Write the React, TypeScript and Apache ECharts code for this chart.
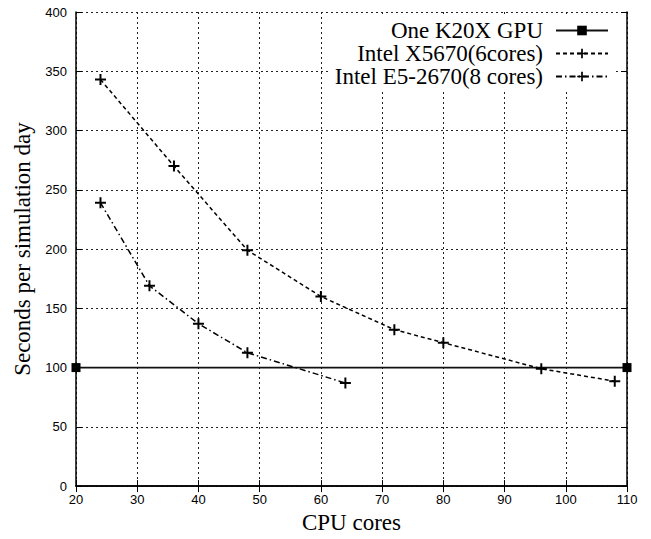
import React, { useEffect, useRef } from 'react';
import * as echarts from 'echarts';

const seriesNames = ['One K20X GPU', 'Intel X5670(6cores)', 'Intel E5-2670(8 cores)'];
const gpuCores = [20, 110];
const gpuSecs = [100, 100];
const x5670Cores = [24, 36, 48, 60, 72, 80, 96, 108];
const x5670Secs = [343, 270, 199, 160, 132, 121, 99, 88.5];
const e5Cores = [24, 32, 40, 48, 64];
const e5Secs = [239, 169, 137, 112.5, 87];
const xAxisName = 'CPU cores';
const yAxisName = 'Seconds per simulation day';

const SERIF = '"Liberation Serif", "Times New Roman", serif';
const SANS = '"Liberation Sans", Arial, sans-serif';
const PLUS = 'path://M-5,-0.9H5V0.9H-5Z M-0.9,-5H0.9V5H-0.9Z';

const zip = (xs: number[], ys: number[]) => xs.map((x, i) => [x, ys[i]]);

export default function App() {
  const ref = useRef<HTMLDivElement>(null);
  useEffect(() => {
    document.body.style.margin = '0';
    const chart = echarts.init(ref.current!, null, { renderer: 'svg' });
    const frame = { show: true, lineStyle: { color: '#000', width: 1.5 } };
    const tick = { show: true, inside: true, length: 6, lineStyle: { color: '#000', width: 1 } };
    const grid = { show: true, lineStyle: { color: '#222', width: 1, type: [2, 3] as any } };
    chart.setOption({
      animation: false,
      backgroundColor: '#fff',
      grid: { left: 76, right: 24, top: 12, bottom: 45, containLabel: false },
      legend: {
        orient: 'vertical',
        right: 38,
        top: 17,
        align: 'right',
        itemWidth: 52,
        itemHeight: 12,
        itemGap: 0,
        backgroundColor: '#fff',
        padding: [2, 4, 2, 6],
        data: seriesNames,
        textStyle: { fontFamily: SERIF, fontSize: 23, lineHeight: 21.5, color: '#000', padding: [0, 8, 0, 0] },
      },
      xAxis: [
        {
          type: 'value', min: 20, max: 110, interval: 10, position: 'bottom',
          name: xAxisName, nameLocation: 'middle', nameGap: 23,
          nameTextStyle: { fontFamily: SERIF, fontSize: 23, color: '#000' },
          axisLine: frame, axisTick: tick, splitLine: grid,
          axisLabel: { fontFamily: SANS, fontSize: 13, color: '#000', margin: 7 },
        },
        {
          type: 'value', min: 20, max: 110, interval: 10, position: 'top',
          axisLine: frame, axisTick: tick, splitLine: { show: false }, axisLabel: { show: false },
        },
      ],
      yAxis: [
        {
          type: 'value', min: 0, max: 400, interval: 50, position: 'left',
          name: yAxisName, nameLocation: 'middle', nameGap: 42,
          nameTextStyle: { fontFamily: SERIF, fontSize: 23, color: '#000' },
          axisLine: frame, axisTick: tick, splitLine: grid,
          axisLabel: { fontFamily: SANS, fontSize: 13, color: '#000', margin: 9 },
        },
        {
          type: 'value', min: 0, max: 400, interval: 50, position: 'right',
          axisLine: frame, axisTick: tick, splitLine: { show: false }, axisLabel: { show: false },
        },
      ],
      series: [
        {
          name: seriesNames[0], type: 'line', data: zip(gpuCores, gpuSecs),
          symbol: 'rect', symbolSize: 9, clip: false, z: 3,
          lineStyle: { color: '#111', width: 1.6, type: 'solid' },
          itemStyle: { color: '#000' },
        },
        {
          name: seriesNames[1], type: 'line', data: zip(x5670Cores, x5670Secs),
          symbol: PLUS, symbolSize: 11, clip: false,
          lineStyle: { color: '#000', width: 1.5, type: [4, 3] as any },
          itemStyle: { color: '#000' },
        },
        {
          name: seriesNames[2], type: 'line', data: zip(e5Cores, e5Secs),
          symbol: PLUS, symbolSize: 11, clip: false,
          lineStyle: { color: '#000', width: 1.5, type: [6, 3, 1.5, 3] as any },
          itemStyle: { color: '#000' },
        },
      ],
    });
    return () => chart.dispose();
  }, []);
  return <div ref={ref} style={{ width: 651, height: 539 }} />;
}
